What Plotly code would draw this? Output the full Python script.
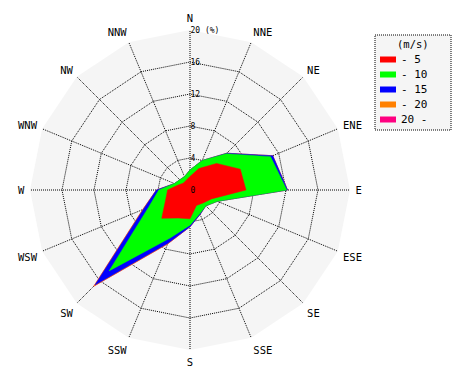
import plotly.graph_objects as go

# 16 compass directions (clockwise from North)
directions = ["N", "NNE", "NE", "ENE", "E", "ESE", "SE", "SSE",
              "S", "SSW", "SW", "WSW", "W", "WNW", "NW", "NNW"]

# frequency (%) of each wind-speed class per direction
freq_0_5   = [1.7, 2.9, 4.7, 6.8, 7.0, 2.9, 2.3, 2.1, 3.6, 3.8, 5.0, 3.3, 2.8, 1.6, 1.2, 1.3]
freq_5_10  = [0.8, 1.1, 1.7, 4.1, 5.1, 0.8, 0.5, 1.1, 0.8, 2.7, 9.3, 2.3, 1.1, 0.5, 0.6, 0.5]
freq_10_15 = [0.0, 0.0, 0.1, 0.3, 0.1, 0.0, 0.0, 0.1, 0.2, 0.7, 2.5, 0.7, 0.3, 0.0, 0.0, 0.0]
freq_15_20 = [0.0, 0.0, 0.0, 0.0, 0.0, 0.0, 0.0, 0.0, 0.0, 0.1, 0.2, 0.1, 0.0, 0.0, 0.0, 0.0]
freq_20_up = [0.0, 0.0, 0.0, 0.0, 0.0, 0.0, 0.0, 0.0, 0.0, 0.0, 0.0, 0.0, 0.0, 0.0, 0.0, 0.0]

speed_labels = ["- 5", "- 10", "- 15", "- 20", "20 -"]
speed_colors = ["#ff0000", "#00ff00", "#0000ff", "#ff8000", "#ff0080"]
legend_title = "(m/s)"

radial_ticks = [0, 4, 8, 12, 16, 20]
radial_ticktext = ["0", "4", "8", "12", "16", "20 (%)"]

classes = [freq_0_5, freq_5_10, freq_10_15, freq_15_20, freq_20_up]

# cumulative totals
cumulative = []
running = [0.0] * len(directions)
for cls in classes:
    running = [a + b for a, b in zip(running, cls)]
    cumulative.append(list(running))

FONT = "DejaVu Sans Mono"
fig = go.Figure()

# draw outermost class first so inner ones sit on top
for i in reversed(range(len(classes))):
    r = cumulative[i] + [cumulative[i][0]]
    th = directions + [directions[0]]
    fig.add_trace(go.Scatterpolar(
        r=r, theta=th, mode="lines", fill="toself",
        fillcolor=speed_colors[i], line=dict(color=speed_colors[i], width=0.5),
        name=speed_labels[i], showlegend=False, hoverinfo="skip"))

W, H = 470, 380
OFF = 8  # page body margin compensation
cx, cy, R = 190 - OFF, 190 - OFF, 160

fig.update_layout(
    width=W, height=H,
    margin=dict(l=0, r=0, t=0, b=0),
    paper_bgcolor="white",
    font=dict(family=FONT, color="black", size=10.5),
    showlegend=False,
    polar=dict(
        domain=dict(x=[(cx - R) / W, (cx + R) / W], y=[1 - (cy + R) / H, 1 - (cy - R) / H]),
        bgcolor="#f5f5f5",
        gridshape="linear",
        angularaxis=dict(
            direction="clockwise", rotation=90,
            categoryorder="array", categoryarray=directions,
            showgrid=True, gridcolor="black", griddash="1px,1px", gridwidth=1,
            showline=False, ticks="outside", ticklen=3, tickcolor="rgba(0,0,0,0)",
            tickfont=dict(family=FONT, size=10.5, color="black"),
        ),
        radialaxis=dict(
            range=[0, 20], angle=90, side="clockwise",
            tickvals=radial_ticks, ticktext=radial_ticktext,
            showgrid=True, gridcolor="black", griddash="1px,1px", gridwidth=1,
            showline=False, ticks="",
            tickfont=dict(family=FONT, size=8, color="black"),
            tickangle=90,
        ),
    ),
)

# manual legend (box, title, swatches, labels)
lx0, ly0, lx1, ly1 = 375 - OFF, 35 - OFF, 451 - OFF, 130 - OFF
def px(x):
    return x / W
def py(y):
    return 1 - y / H

fig.add_shape(type="rect", xref="paper", yref="paper",
              x0=px(lx0), x1=px(lx1), y0=py(ly1), y1=py(ly0),
              line=dict(color="black", width=1, dash="1px,1px"),
              fillcolor="#f5f5f5", layer="below")
fig.add_annotation(xref="paper", yref="paper", x=px((lx0 + lx1) / 2), y=py(44 - OFF),
                   text=legend_title, showarrow=False, xanchor="center", yanchor="middle",
                   font=dict(family=FONT, size=10.5, color="black"))
for i, (lab, col) in enumerate(zip(speed_labels, speed_colors)):
    yc = 59.5 + 15 * i - OFF
    fig.add_shape(type="rect", xref="paper", yref="paper",
                  x0=px(380 - OFF), x1=px(396 - OFF), y0=py(yc + 3), y1=py(yc - 3),
                  line=dict(width=0), fillcolor=col)
    fig.add_annotation(xref="paper", yref="paper", x=px(399 - OFF), y=py(yc),
                       text=lab, showarrow=False, xanchor="left", yanchor="middle",
                       font=dict(family=FONT, size=11, color="black"))

fig.write_html("out.html")
